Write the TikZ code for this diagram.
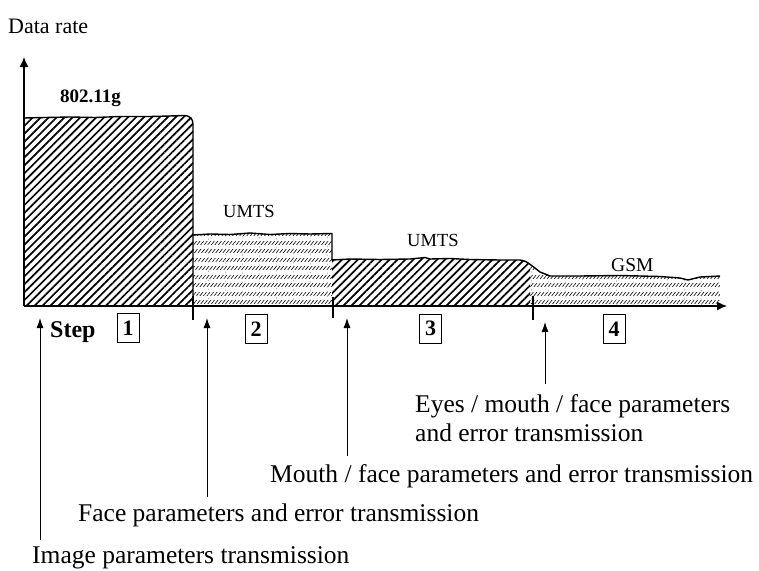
\documentclass[tikz,border=0pt]{standalone}
\usepackage{fontspec}
\setmainfont{Liberation Serif}
\usetikzlibrary{patterns.meta,arrows.meta,calc}
\begin{document}
\begin{tikzpicture}[x=1pt,y=-1pt,
  dense/.style={pattern={Lines[angle=45,distance=5.6pt,line width=1.7pt]}},
  light/.style={pattern={Lines[angle=52,distance=2.8pt,line width=0.6pt]}},
  gaps/.style={pattern={Lines[angle=0,distance=8.5pt,line width=4.5pt]},pattern color=white},
  edge/.style={line width=1.4pt,line join=round},
  axis/.style={line width=1.3pt,-{Latex[length=10pt,width=9pt]}},
  tickmark/.style={line width=2pt},
  pointer/.style={line width=0.9pt,-{Latex[length=10pt,width=7pt]}},
  caption/.style={font=\fontsize{25.5}{30}\selectfont,inner sep=0pt},
  net/.style={font=\fontsize{18.5}{20}\selectfont,inner sep=0pt},
  stepno/.style={draw,line width=1pt,font=\bfseries\fontsize{22}{22}\selectfont,
    inner sep=0pt,minimum width=22pt,minimum height=29pt}
]
\useasboundingbox (0,0) rectangle (759,570);

% skyline of the data rate over the four steps
\path[save path=\sky] (24,306) -- (24,118) -- (45,117.5) -- (70,117) -- (95,117.5)
  -- (120,116.5) -- (150,116.5) -- (170,116) -- (183,115.5)
  .. controls (191,115.5) and (193,119) .. (193,125) -- (193,235)
  -- (210,234) -- (230,234.5) -- (250,233) -- (270,234.5) -- (290,233.5)
  -- (310,234) -- (332,233.5) -- (332,260)
  -- (350,259) -- (380,259.5) -- (410,259) -- (425,257.5) -- (430,259)
  -- (450,258.5) -- (470,259.5) -- (500,260) -- (520,260)
  .. controls (526,260) and (532,266) .. (540,272) -- (550,276)
  -- (580,276) -- (620,275.5) -- (660,276.5) -- (680,278) -- (688,280)
  -- (700,277) -- (720,276) -- (720,306) -- cycle;

% step 1 and step 3: dense hatching
\begin{scope}
  \clip (24,0) rectangle (193,306);
  \fill[dense,use path=\sky];
\end{scope}
\begin{scope}
  \clip (332,0) rectangle (530,306);
  \fill[dense,use path=\sky];
\end{scope}
% step 2 and step 4: banded light hatching
\begin{scope}
  \clip (193,0) rectangle (332,306);
  \fill[light,use path=\sky];
  \fill[gaps,use path=\sky];
\end{scope}
\begin{scope}
  \clip (530,0) rectangle (720,306);
  \fill[light,use path=\sky];
  \fill[gaps,use path=\sky];
\end{scope}

% outline of the skyline
\draw[edge] (24,118) -- (45,117.5) -- (70,117) -- (95,117.5)
  -- (120,116.5) -- (150,116.5) -- (170,116) -- (183,115.5)
  .. controls (191,115.5) and (193,119) .. (193,125) -- (193,306);
\draw[edge] (193,235)
  -- (210,234) -- (230,234.5) -- (250,233) -- (270,234.5) -- (290,233.5)
  -- (310,234) -- (332,233.5) -- (332,260)
  -- (350,259) -- (380,259.5) -- (410,259) -- (425,257.5) -- (430,259)
  -- (450,258.5) -- (470,259.5) -- (500,260) -- (520,260)
  .. controls (526,260) and (532,266) .. (540,272) -- (550,276)
  -- (580,276) -- (620,275.5) -- (660,276.5) -- (680,278) -- (688,280)
  -- (700,277) -- (720,276);

% axes
\coordinate (o) at (24,306);
\coordinate (ytop) at (24,57);
\coordinate (xend) at (727,306);
\draw[axis] (o) -- (ytop);
\draw[axis] (o) -- (xend);
\node[anchor=base west,inner sep=0pt,font=\fontsize{22}{24}\selectfont] (ylabel) at (8,33) {Data rate};

% boundaries between steps
\coordinate (b1) at (193,296); \coordinate (b1e) at (193,320);
\coordinate (b2) at (333,297); \coordinate (b2e) at (333,318);
\coordinate (b3) at (533,296); \coordinate (b3e) at (533,320);
\draw[tickmark] (b1) -- (b1e);
\draw[tickmark] (b2) -- (b2e);
\draw[tickmark] (b3) -- (b3e);

% network labels
\node[anchor=base west,inner sep=0pt,font=\bfseries\fontsize{19}{20}\selectfont] (wlan) at (60,102) {802.11g};
\node[net,anchor=base west] (umtsA) at (223,217) {UMTS};
\node[net,anchor=base west] (umtsB) at (407,246) {UMTS};
\node[anchor=base west,inner sep=0pt,font=\fontsize{19.5}{20}\selectfont] (gsm) at (611,271) {GSM};

% step numbers
\node[anchor=base west,inner sep=0pt,font=\bfseries\fontsize{24}{24}\selectfont] (steplbl) at (50,337) {Step};
\node[stepno] (s1) at (128,328) {1};
\node[stepno] (s2) at (256,329) {2};
\node[stepno] (s3) at (430.5,328.5) {3};
\node[stepno] (s4) at (614,329) {4};

% transmission captions
\node[caption,anchor=base west] (img) at (32,563) {Image parameters transmission};
\node[caption,anchor=base west] (face) at (78,521) {Face parameters and error transmission};
\node[caption,anchor=base west] (mouth) at (270,482) {Mouth / face parameters and error transmission};
\node[caption,anchor=base west] (eyes) at (415,412) {Eyes / mouth / face parameters};
\node[caption,anchor=base west] (eyes2) at (415,441) {and error transmission};

% pointers from captions up to the time axis
\coordinate (t1) at (40,318);
\coordinate (t2) at (207,318);
\coordinate (t3) at (347,318);
\coordinate (t4) at (545,322);
\draw[pointer] ($(img.north -| t1)+(0,-6)$) -- (t1);
\draw[pointer] ($(face.north -| t2)+(0,-6)$) -- (t2);
\draw[pointer] ($(mouth.north -| t3)+(0,-8)$) -- (t3);
\draw[pointer] ($(eyes.north -| t4)+(0,-10)$) -- (t4);
\end{tikzpicture}
\end{document}
